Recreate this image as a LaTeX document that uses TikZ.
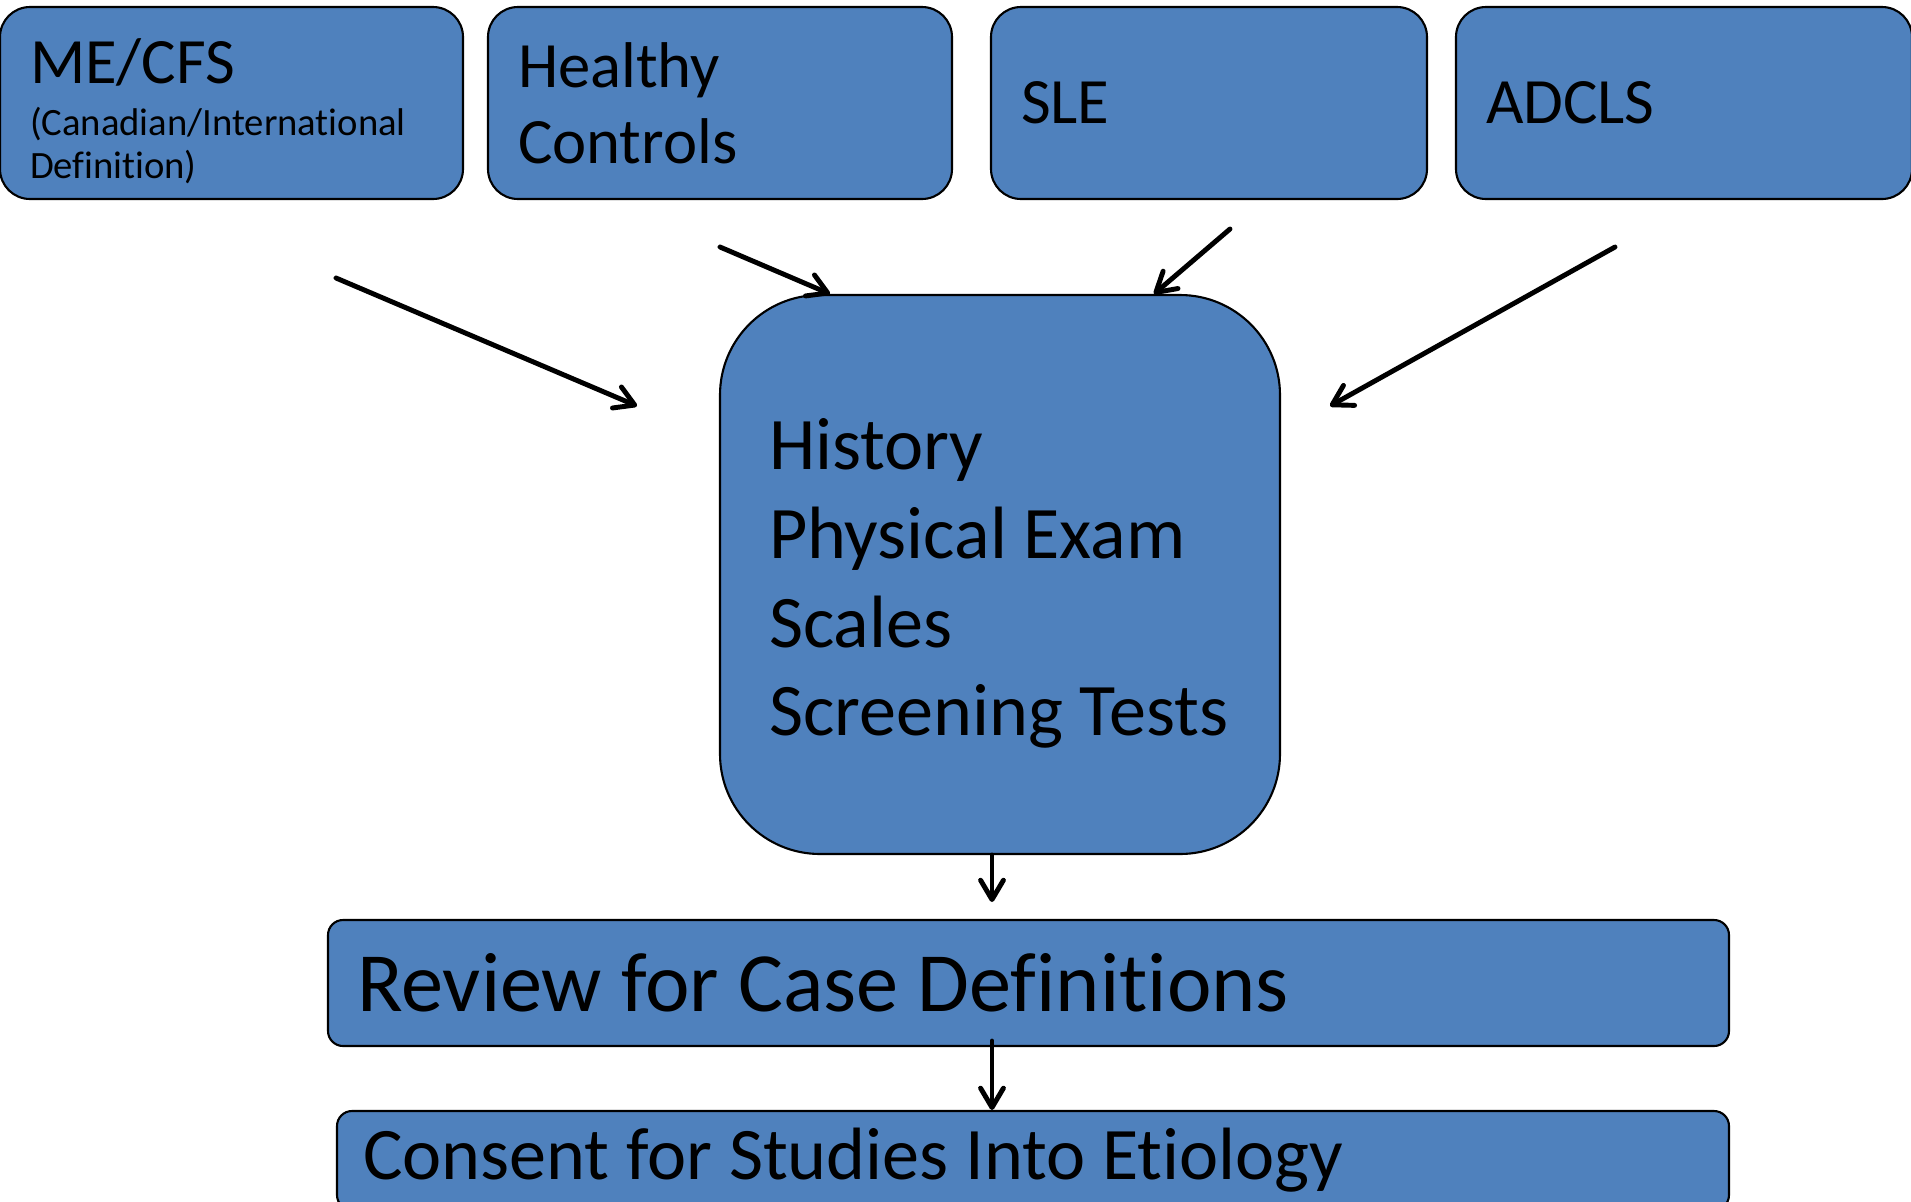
\documentclass[tikz,border=0pt]{standalone}
\usepackage{fontspec}
\setmainfont{Carlito}[Ligatures=NoCommon]
\usetikzlibrary{arrows.meta}
\definecolor{boxblue}{HTML}{4F81BD}

\tikzset{
  grp/.style={draw=black, line width=0.6pt, fill=boxblue, rounded corners=0.3cm,
    inner xsep=0.3cm, inner ysep=0pt, align=flush left, anchor=center,
    font=\fontsize{18.4}{21.6}\selectfont},
  arr/.style={-{Straight Barb[length=5.5pt,width=6.5pt,round]}, line width=1.4pt, line cap=round},
}

\begin{document}
\begin{tikzpicture}[x=0.1mm,y=-0.1mm]
  \useasboundingbox (0,0) rectangle (1911,1202);
  % groups at the top
  \node[grp, text width=4.03cm, minimum height=1.92cm] (mecfs) at (231.5,103)
    {\rule{0pt}{17.4pt}ME/CFS\par\vspace{2.6pt}\fontsize{11}{12.2}\selectfont (Canadian/International\par Definition)\par};
  \node[grp, text width=4.04cm, minimum height=1.92cm] (healthy) at (720,103) {Healthy\\Controls};
  \node[grp, text width=3.76cm, minimum height=1.92cm] (sle) at (1209,103) {SLE};
  \node[grp, text width=3.96cm, minimum height=1.92cm] (adcls) at (1684,103) {ADCLS};
  % work-up box
  \node[grp, rounded corners=1cm, inner xsep=0.49cm, text width=4.62cm, minimum height=5.59cm,
    font=\fontsize{21.1}{25.3}\selectfont] (exam) at (1000,574.5)
    {\rule{0pt}{19.6pt}History\\Physical Exam\\Scales\\Screening Tests};
  % steps below
  \node[grp, rounded corners=0.15cm, inner xsep=0.29cm, text width=13.43cm, minimum height=1.26cm,
    font=\fontsize{24}{28}\selectfont] (review) at (1028.5,983) {Review for Case Definitions};
  \node[grp, rounded corners=0.15cm, inner xsep=0.26cm, text width=13.4cm, minimum height=0.99cm,
    font=\fontsize{21.1}{25}\selectfont] (consent) at (1033,1160.5) {Consent for Studies Into Etiology};

  % arrows into the work-up box
  \coordinate (m1) at (336,278);   \coordinate (m2) at (637,406);
  \coordinate (h1) at (720,247);   \coordinate (h2) at (830,294);
  \coordinate (s1) at (1230,229);  \coordinate (s2) at (1154,294);
  \coordinate (a1) at (1615,247);  \coordinate (a2) at (1330,406);
  \draw[arr] (m1) -- (m2);
  \draw[arr] (h1) -- (h2);
  \draw[arr] (s1) -- (s2);
  \draw[arr] (a1) -- (a2);
  % arrows down the chain
  \coordinate (d1) at (992,902);
  \coordinate (d2) at (992,1041);
  \draw[arr] (exam.south -| d1) -- (d1);
  \draw[arr] (d2) -- (d2 |- consent.north);
\end{tikzpicture}
\end{document}
